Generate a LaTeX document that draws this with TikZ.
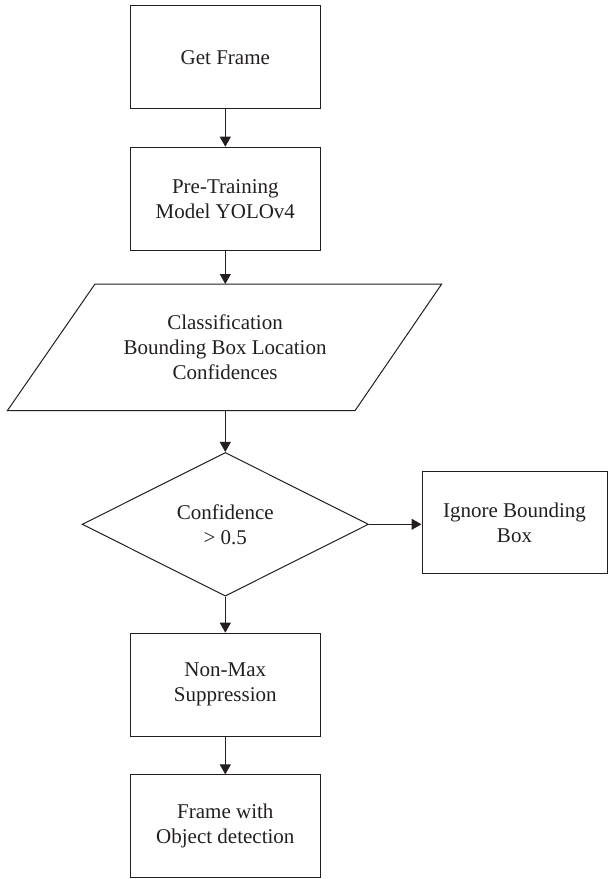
\documentclass[tikz,border=0pt]{standalone}
\usepackage{fontspec}
\setmainfont{Liberation Serif}
\usetikzlibrary{arrows.meta,shapes.geometric}
\definecolor{ink}{HTML}{231F20}
\begin{document}
\begin{tikzpicture}[x=1pt,y=-1pt,
  line width=1pt,
  flow/.style={draw=ink, text=ink, font=\fontsize{21}{25}\selectfont, align=center, inner sep=0pt},
  procbox/.style={flow, rectangle, minimum width=190.5pt, minimum height=103pt},
  arr/.style={draw=ink, -{Triangle[length=10pt,width=11pt]}}]
\useasboundingbox (0,0) rectangle (608,879);

\node[procbox] (b1) at (225.3,57.2) {Get Frame};
\node[procbox] (b2) at (225.3,198.7) {Pre-Training\\Model YOLOv4};

\draw[draw=ink] (95,284) -- (441.7,284) -- (355,410.7) -- (7.3,410.7) -- cycle;
\coordinate (clstop) at (225.3,284);
\coordinate (clsbot) at (225.3,410.7);
\node[flow, draw=none] (cls) at (225,347.5) {Classification\\Bounding Box Location\\Confidences};

\node[flow, diamond, minimum width=286.3pt, minimum height=143.7pt] (dec) at (225.3,524.3) {Confidence\\> 0.5};
\node[flow, rectangle, minimum width=185pt, minimum height=102pt] (ign) at (514.5,522.5) {Ignore Bounding\\Box};

\node[procbox] (b3) at (225.3,684.7) {Non-Max\\Suppression};
\node[procbox] (b4) at (225.3,826.4) {Frame with\\Object detection};

\draw[arr] (b1.south) -- (b2.north);
\draw[arr] (b2.south) -- (clstop);
\draw[arr] (clsbot) -- (dec.north);
\draw[arr] (dec.east) -- (dec.east -| ign.west);
\draw[arr] (dec.south) -- (b3.north);
\draw[arr] (b3.south) -- (b4.north);
\end{tikzpicture}
\end{document}
